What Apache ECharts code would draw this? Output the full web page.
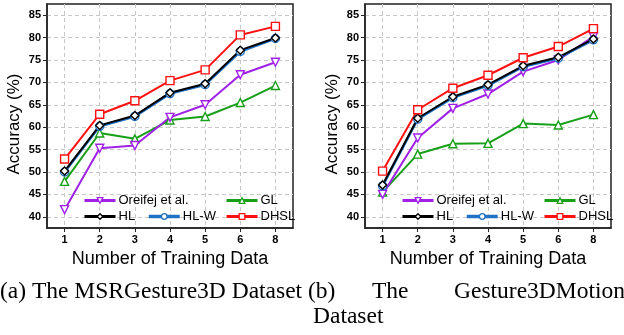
<!DOCTYPE html>
<html>
<head>
<meta charset="utf-8">
<script src="https://cdn.jsdelivr.net/npm/echarts@6/dist/echarts.min.js"></script>
<style>
  html, body { margin: 0; padding: 0; background: #fff; }
  #chart { width: 624px; height: 335px; }
</style>
</head>
<body>
<div id="chart"></div>
<script>
const categories = ['1', '2', '3', '4', '5', '6', '8']
const yTicks = [40, 45, 50, 55, 60, 65, 70, 75, 80, 85]

// (a) MSRGesture3D
const msrOreifej = [41.6, 55.3, 55.9, 62.2, 65.0, 71.7, 74.5]
const msrGL      = [47.9, 58.7, 57.4, 61.6, 62.4, 65.5, 69.3]
const msrHLW     = [50.0, 60.2, 62.4, 67.5, 69.5, 76.9, 79.8]
const msrHL      = [50.2, 60.4, 62.6, 67.7, 69.7, 77.2, 79.9]
const msrDHSL    = [52.9, 62.9, 65.9, 70.4, 72.8, 80.6, 82.5]

// (b) Gesture3DMotion
const g3dOreifej = [45.0, 57.6, 64.2, 67.4, 72.4, 75.0, 80.2]
const g3dGL      = [45.5, 54.0, 56.3, 56.4, 60.8, 60.5, 62.8]
const g3dHLW     = [46.9, 61.8, 66.6, 69.3, 73.5, 75.4, 79.5]
const g3dHL      = [47.1, 62.0, 66.8, 69.5, 73.7, 75.6, 79.7]
const g3dDHSL    = [50.2, 63.9, 68.7, 71.6, 75.5, 78.0, 82.0]

const SANS  = 'Liberation Sans'
const SERIF = 'Liberation Serif'
const FRAME = '#222'

const styles = {
  'Oreifej et al.': { color: '#a020e8', symbol: 'triangle', rotate: 180, width: 2 },
  'GL':             { color: '#17a017', symbol: 'triangle', rotate: 0,   width: 2 },
  'HL-W':           { color: '#1f72c4', symbol: 'circle',   rotate: 0,   width: 2.6 },
  'HL':             { color: '#000000', symbol: 'diamond',  rotate: 0,   width: 2 },
  'DHSL':           { color: '#ff1010', symbol: 'rect',     rotate: 0,   width: 2 },
}

function makeSeries(name, data, idx) {
  const s = styles[name]
  return {
    type: 'line', name, data,
    xAxisIndex: idx, yAxisIndex: idx,
    symbol: s.symbol, symbolRotate: s.rotate, symbolSize: 8,
    lineStyle: { color: s.color, width: s.width },
    itemStyle: { color: '#fff', borderColor: s.color, borderWidth: 1.4 },
    emphasis: { disabled: true },
  }
}

function xAxis(idx) {
  return {
    gridIndex: idx, type: 'category', data: categories, boundaryGap: true,
    name: 'Number of Training Data', nameLocation: 'middle', nameGap: 21,
    nameTextStyle: { fontFamily: SANS, fontSize: 18, color: '#000' },
    axisLine: { show: true, lineStyle: { color: FRAME, width: 1.5 } },
    axisTick: { show: true, alignWithLabel: true, length: 4, lineStyle: { color: FRAME } },
    axisLabel: { margin: 6, fontFamily: SANS, fontSize: 11, fontWeight: 'bold', color: '#000' },
    splitLine: { show: true, alignWithLabel: true, lineStyle: { color: '#c8c8c8', type: [4, 3], width: 1 } },
  }
}

function yAxis(idx) {
  return {
    gridIndex: idx, type: 'value', min: 37.5, max: 87.5, splitNumber: 10,
    name: 'Accuracy (%)', nameLocation: 'middle', nameGap: 24,
    nameTextStyle: { fontFamily: SANS, fontSize: 17, color: '#000', padding: [0, 16, 0, 0] },
    axisLine: { show: true, lineStyle: { color: FRAME, width: 1.5 } },
    axisTick: { show: true, length: 4, customValues: yTicks, lineStyle: { color: FRAME } },
    axisLabel: { margin: 6, customValues: yTicks, fontFamily: SANS, fontSize: 11, fontWeight: 'bold', color: '#000' },
    splitLine: { show: true, lineStyle: { color: '#c8c8c8', type: [4, 3], width: 1 } },
  }
}

function legend(name, left, top) {
  const s = styles[name]
  return {
    data: [name], left, top, padding: 0,
    itemWidth: 31, itemHeight: 7, itemGap: 0,
    selectedMode: false,
    itemStyle: { color: '#fff', borderColor: s.color, borderWidth: 1.3 },
    lineStyle: { color: s.color, width: name === 'HL-W' ? 3.5 : 3 },
    textStyle: { fontFamily: SANS, fontSize: 13, color: '#000', padding: [0, 0, 0, -2] },
  }
}

function legendsFor(gx) {
  return [
    legend('Oreifej et al.', gx + 36, 194),
    legend('GL',             gx + 178, 194),
    legend('HL',             gx + 36, 210),
    legend('HL-W',           gx + 100, 210),
    legend('DHSL',           gx + 178, 210),
  ]
}

const captionStyle = { fontFamily: SERIF, fontSize: 23.5, fontWeight: 'normal', color: '#000' }

const chart = echarts.init(document.getElementById('chart'), null, { renderer: 'canvas' })
chart.setOption({
  animation: false,
  grid: [
    { left: 47, top: 4, width: 246, height: 224, show: true, borderColor: FRAME, borderWidth: 1.5, backgroundColor: 'transparent' },
    { left: 365, top: 4, width: 246, height: 224, show: true, borderColor: FRAME, borderWidth: 1.5, backgroundColor: 'transparent' },
  ],
  xAxis: [xAxis(0), xAxis(1)],
  yAxis: [yAxis(0), yAxis(1)],
  legend: [...legendsFor(47), ...legendsFor(365)],
  title: [
    { text: '(a) The MSRGesture3D Dataset', left: 0, top: 280, padding: 0, textStyle: captionStyle },
    { text: '(b)', left: 308, top: 280, padding: 0, textStyle: captionStyle },
    { text: 'The', left: 372, top: 280, padding: 0, textStyle: captionStyle },
    { text: 'Gesture3DMotion', left: 454, top: 280, padding: 0, textStyle: captionStyle },
    { text: 'Dataset', left: 313, top: 305, padding: 0, textStyle: captionStyle },
  ],
  series: [
    makeSeries('GL', msrGL, 0),
    makeSeries('Oreifej et al.', msrOreifej, 0),
    makeSeries('HL-W', msrHLW, 0),
    makeSeries('HL', msrHL, 0),
    makeSeries('DHSL', msrDHSL, 0),
    makeSeries('GL', g3dGL, 1),
    makeSeries('Oreifej et al.', g3dOreifej, 1),
    makeSeries('HL-W', g3dHLW, 1),
    makeSeries('HL', g3dHL, 1),
    makeSeries('DHSL', g3dDHSL, 1),
  ],
})
</script>
</body>
</html>
